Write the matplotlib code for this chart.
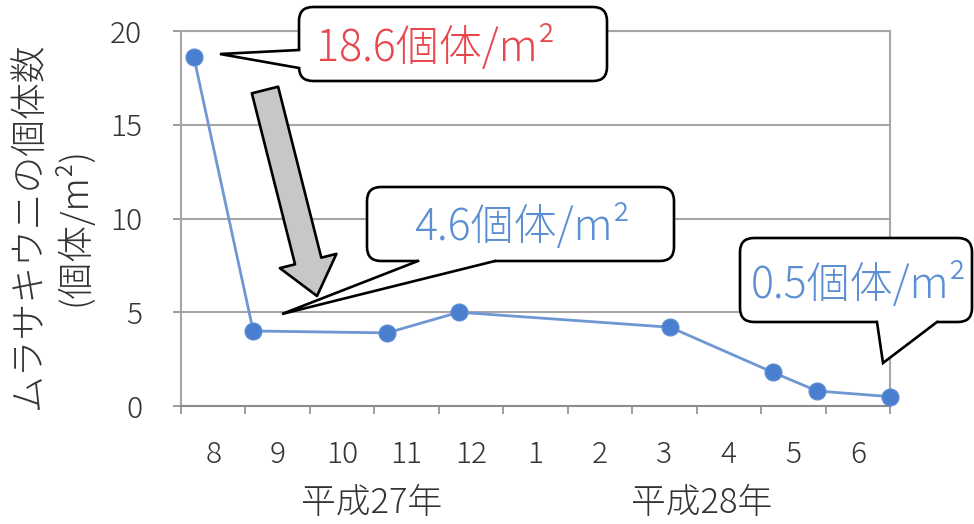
import matplotlib
matplotlib.use('Agg')
import matplotlib.pyplot as plt
from matplotlib.patches import FancyBboxPatch, Polygon, FancyArrowPatch

plt.rcParams['font.family'] = ['Noto Sans CJK JP', 'DejaVu Sans']
plt.rcParams['font.weight'] = 'light'

# survey dates as position along the month axis (0 = start of August 2015)
survey_pos = [0.20, 1.12, 3.20, 4.31, 7.59, 9.18, 9.87, 11.0]
density = [18.6, 4.0, 3.9, 5.0, 4.2, 1.8, 0.8, 0.5]

months = ['8', '9', '10', '11', '12', '1', '2', '3', '4', '5', '6']
years = ['平成27年', '平成28年']
year_pos = [2.96, 8.08]

y_label = 'ムラサキウニの個体数\n(個体/m²)'
notes = ['18.6個体/m²', '4.6個体/m²', '0.5個体/m²']

W, H = 974, 524
fig = plt.figure(figsize=(W / 100, H / 100), dpi=100)
ax = fig.add_axes([181 / W, 1 - 406 / H, (890 - 181) / W, (406 - 31) / H])

grid_c = '#a6a6a6'
ax.plot(survey_pos, density, color='#6e97d3', lw=2, marker='o', ms=12,
        mfc='#4a7fcf', mec='#5a8ad2', clip_on=False, zorder=3)

ax.set_xlim(0, len(months))
ax.set_ylim(0, 20)
ax.set_yticks([0, 5, 10, 15, 20])
ax.yaxis.grid(True, color=grid_c, lw=1.5)
ax.set_axisbelow(True)

ax.set_xticks(range(len(months) + 1))
ax.set_xticklabels([])
ax.set_xticks([i + 0.5 for i in range(len(months))], minor=True)
ax.set_xticklabels(months, minor=True)
ax.tick_params(axis='x', which='major', length=6, color='#8c8c8c', width=1.2)
ax.tick_params(axis='x', which='minor', length=0, pad=24, labelsize=21.5,
               labelcolor='#333333')
ax.tick_params(axis='y', length=6, color='#8c8c8c', width=1.2, pad=22,
               labelsize=21.5, labelcolor='#333333')
for s in ['left', 'bottom', 'right', 'top']:
    ax.spines[s].set_color(grid_c)
    ax.spines[s].set_linewidth(1.5)
ax.spines['bottom'].set_color('#8c8c8c')

for yr, p in zip(years, year_pos):
    ax.text(p, -0.26, yr, transform=ax.get_xaxis_transform(), ha='center',
            va='center', fontsize=25, color='#333333')

fig.text(52 / W, 1 - 226 / H, y_label, rotation=90, ha='center', va='center',
         fontsize=26.5, color='#333333', linespacing=1.2)

# overlay in pixel units for callouts and the big arrow
ov = fig.add_axes([0, 0, 1, 1], zorder=5)
ov.set_xlim(0, W)
ov.set_ylim(H, 0)
ov.axis('off')


def callout(x0, y0, x1, y1, base1, tip, base2, inward):
    box = FancyBboxPatch((x0, y0), x1 - x0, y1 - y0,
                         boxstyle='round,pad=0,rounding_size=14',
                         fc='white', ec='black', lw=1.9)
    ov.add_patch(box)
    dx, dy = inward
    ov.add_patch(Polygon([base1, tip, base2,
                          (base2[0] + dx, base2[1] + dy),
                          (base1[0] + dx, base1[1] + dy)],
                         closed=True, fc='white', ec='none'))
    ov.plot([base1[0], tip[0], base2[0]], [base1[1], tip[1], base2[1]],
            color='black', lw=1.9, solid_joinstyle='miter')


callout(299, 7, 607, 81, (299, 50), (220, 54), (299, 68), (4, 0))
ov.text(435, 61, notes[0], ha='center', va='baseline', fontsize=31,
        color='#e8474d')

callout(367, 187, 674, 261, (418, 261), (282, 314), (495, 261), (0, -4))
ov.text(522, 240, notes[1], ha='center', va='baseline', fontsize=31,
        color='#5b8fd2')

callout(740, 238, 972, 322, (877, 322), (883, 363), (937, 322), (0, -4))
ov.text(859, 298, notes[2], ha='center', va='baseline', fontsize=31,
        color='#5b8fd2')

arrow = FancyArrowPatch((265, 90), (317, 296),
                        arrowstyle='simple,head_width=42,head_length=26,tail_width=19.5',
                        mutation_scale=1, shrinkA=0, shrinkB=0,
                        fc='#c6c7c9', ec='black', lw=1.9)
ov.add_patch(arrow)

fig.savefig('out.png', dpi=100)
